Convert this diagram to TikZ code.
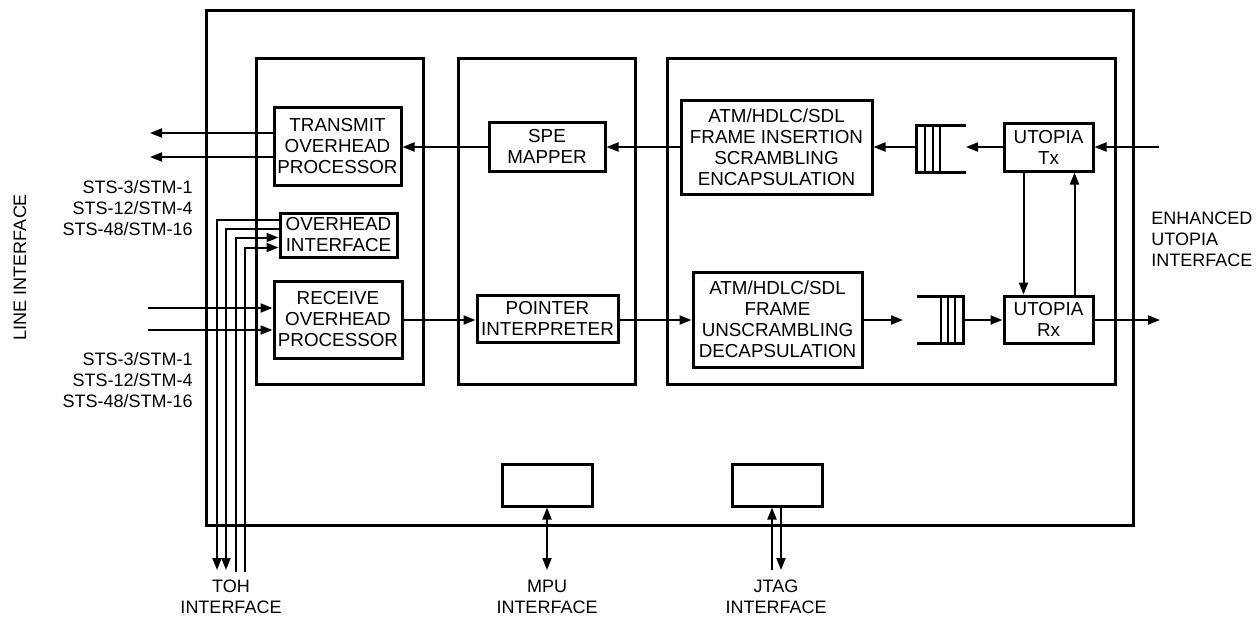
\documentclass[tikz,border=0pt]{standalone}
\usepackage{fontspec}
\setmainfont{Liberation Sans}
\usetikzlibrary{arrows.meta}
\newcommand\bx[6]{\node[box,minimum width={(#4-#2)*0.5pt},minimum height={(#5-#3)*0.5pt}] (#1) at ({(#2+#4)/2},{(#3+#5)/2}) {#6};}
\begin{document}
\begin{tikzpicture}[x=0.5pt,y=-0.5pt,
  btxt/.style={font=\fontsize{9.4}{10.5}\selectfont},
  ltxt/.style={font=\fontsize{9}{10.5}\selectfont},
  box/.style={draw,line width=1.5pt,inner sep=0pt,align=center,btxt},
  lbl/.style={ltxt,inner sep=0pt},
  tip/.style={-{Triangle[length=6pt,width=4.5pt]}},
  arr/.style={line width=1pt,tip},
  dbl/.style={line width=1pt,{Triangle[length=6pt,width=4.5pt]}-{Triangle[length=6pt,width=4.5pt]}},
  fifo/.style={line width=1.5pt},
  bar/.style={line width=1pt},
]
\useasboundingbox (0,0) rectangle (1258,618);

% outer chip and blocks
\bx{chip}{206}{10}{1133}{525}{}
\bx{lb}{256}{58}{423}{384}{}
\bx{mb}{458}{58}{635}{384}{}
\bx{rb}{667}{58}{1115}{384}{}

% inner boxes
\bx{top}{274}{107}{401}{185}{TRANSMIT\\OVERHEAD\\PROCESSOR}
\bx{ohi}{280}{213}{397}{257}{OVERHEAD\\INTERFACE}
\bx{rop}{274}{281}{402}{358}{RECEIVE\\OVERHEAD\\PROCESSOR}
\bx{spe}{489}{122}{605}{171}{SPE\\MAPPER}
\bx{ptr}{477}{295}{618}{342}{POINTER\\INTERPRETER}
\bx{atmT}{681}{100}{872}{194}{ATM/HDLC/SDL\\FRAME INSERTION\\SCRAMBLING\\ENCAPSULATION}
\bx{atmB}{693}{272}{862}{367}{ATM/HDLC/SDL\\FRAME\\UNSCRAMBLING\\DECAPSULATION}
\bx{utx}{1004}{123}{1093}{171}{UTOPIA\\Tx}
\bx{urx}{1004}{296}{1093}{343}{UTOPIA\\Rx}
\bx{mpu}{502}{464}{592}{506}{}
\bx{jtag}{732}{464}{822}{506}{}

% FIFOs
\draw[fifo] (966,125) -- (916,125) -- (916,172) -- (966,172);
\foreach \x in {925,933,940} \draw[bar] (\x,125) -- (\x,172);
\draw[fifo] (917,296) -- (963,296) -- (963,343) -- (917,343);
\foreach \x in {941,948,955} \draw[bar] (\x,296) -- (\x,343);

% coordinates
\coordinate (lo1) at (150,133);
\coordinate (lo2) at (150,157);
\coordinate (li1) at (148,308);
\coordinate (li2) at (148,330);
\coordinate (t1) at (217,570);
\coordinate (t2) at (226,570);
\coordinate (t3) at (236,572);
\coordinate (t4) at (245,572);
\coordinate (fTr) at (966,147);
\coordinate (fTl) at (916,147);
\coordinate (fBl) at (903,320);
\coordinate (fBr) at (963,320);
\coordinate (ui) at (1159,147);
\coordinate (uo) at (1160,320);
\coordinate (mpuI) at (547,570);
\coordinate (jtI) at (772,570);
\coordinate (jtO) at (781,570);

% line interface
\draw[arr] (top.west |- lo1) -- (lo1);
\draw[arr] (top.west |- lo2) -- (lo2);
\draw[arr] (li1) -- (li1 -| rop.west);
\draw[arr] (li2) -- (li2 -| rop.west);

% TOH
\draw[arr] ([yshift=-4pt]ohi.north west) -| (t1);
\draw[arr] ([yshift=-8.5pt]ohi.north west) -| (t2);
\draw[arr] (t3) |- ([yshift=-13pt]ohi.north west);
\draw[arr] (t4) |- ([yshift=-18pt]ohi.north west);

% data path
\draw[arr] (spe.west |- fTl) -- (top.east |- fTl);
\draw[arr] (atmT.west |- fTl) -- (spe.east |- fTl);
\draw[arr] (fTl) -- (fTl -| atmT.east);
\draw[arr] (utx.west |- fTr) -- (fTr);
\draw[arr] (ui) -- (ui -| utx.east);
\draw[arr] (rop.east |- uo) -- (ptr.west |- uo);
\draw[arr] (ptr.east |- uo) -- (atmB.west |- uo);
\draw[arr] (atmB.east |- uo) -- (fBl);
\draw[arr] (fBr) -- (urx.west |- fBr);
\draw[arr] (urx.east |- uo) -- (uo);
\draw[arr] ([xshift=10.5pt]utx.south west) -- ([xshift=10.5pt]urx.north west);
\draw[arr] ([xshift=36pt]urx.north west) -- ([xshift=36pt]utx.south west);

% MPU / JTAG
\draw[dbl] (mpu.south) -- (mpuI);
\draw[arr] (jtI) -- (jtI |- jtag.south);
\draw[arr] (jtO |- jtag.south) -- (jtO);

% labels
\node[lbl,anchor=east,align=right] (r1) at (193,208) {STS-3/STM-1\\STS-12/STM-4\\STS-48/STM-16};
\node[lbl,anchor=east,align=right] (r2) at (193,380) {STS-3/STM-1\\STS-12/STM-4\\STS-48/STM-16};
\node[lbl,rotate=90] (li) at (20,267) {LINE INTERFACE};
\node[lbl,anchor=west,align=left] (eu) at (1151,239) {ENHANCED\\UTOPIA\\INTERFACE};
\node[lbl,align=center] (toh) at (231,597) {TOH\\INTERFACE};
\node[lbl,align=center] (mpuL) at (547,597) {MPU\\INTERFACE};
\node[lbl,align=center] (jtL) at (776,597) {JTAG\\INTERFACE};
\end{tikzpicture}
\end{document}
